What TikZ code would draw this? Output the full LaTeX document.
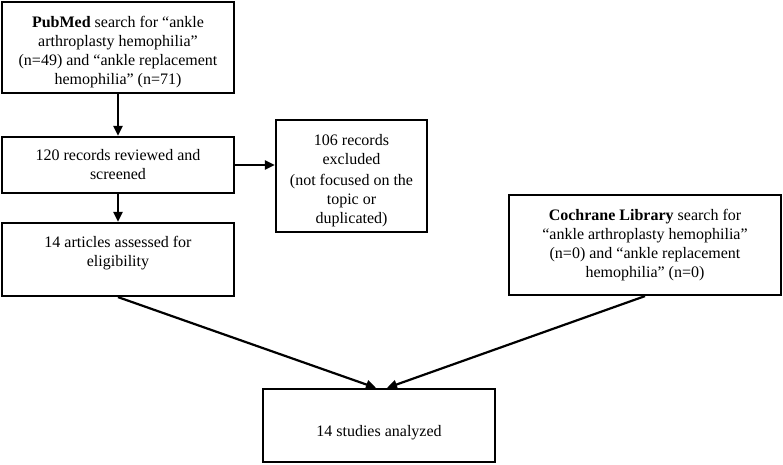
\documentclass[tikz,border=0pt]{standalone}
\usepackage{fontspec}
\setmainfont{Liberation Serif}
\usetikzlibrary{arrows.meta,positioning}

\begin{document}
\begin{tikzpicture}[
    x=1pt, y=-1pt,
    box/.style={
      draw,
      line width=2.2pt,
      align=center,
      inner sep=2pt,
      font=\fontsize{16}{19}\selectfont
    },
    flow/.style={
      -{Triangle[length=10pt,width=9pt]},
      line width=2.2pt
    }
  ]
  \useasboundingbox (0,0) rectangle (783,464);

  % Boxes
  \node[box, minimum width=232, minimum height=91, text height=78pt] (pubmed) at (118,47.5)
    {\textbf{PubMed} search for “ankle\\arthroplasty hemophilia”\\
     (n=49) and “ankle replacement\\hemophilia” (n=71)};
  \node[box, minimum width=232, minimum height=56] (screen) at (118,165)
    {120 records reviewed and\\screened};
  \node[box, minimum width=151, minimum height=112, text height=99pt] (excl) at (351.5,176)
    {106 records\\excluded\\[2pt](not focused on the\\topic or\\duplicated)};
  \node[box, minimum width=232, minimum height=73, text depth=16pt] (elig) at (118,259.5)
    {14 articles assessed for\\eligibility};
  \node[box, minimum width=272, minimum height=100] (cochrane) at (645,245)
    {\textbf{Cochrane Library} search for\\“ankle arthroplasty hemophilia”\\
     (n=0) and “ankle replacement\\hemophilia” (n=0)};
  \node[box, minimum width=232, minimum height=73, text height=26pt] (final) at (379,425.5)
    {14 studies analyzed};

  % Arrows
  \draw[flow] (pubmed) -- (screen);
  \draw[flow] (screen) -- (elig);
  \draw[flow] (screen.east) -- (screen.east -| excl.west);
  \draw[flow] (elig.south) -- ([xshift=-3pt]final.north);
  \draw[flow] (cochrane.south) -- ([xshift=8pt]final.north);

\end{tikzpicture}
\end{document}
